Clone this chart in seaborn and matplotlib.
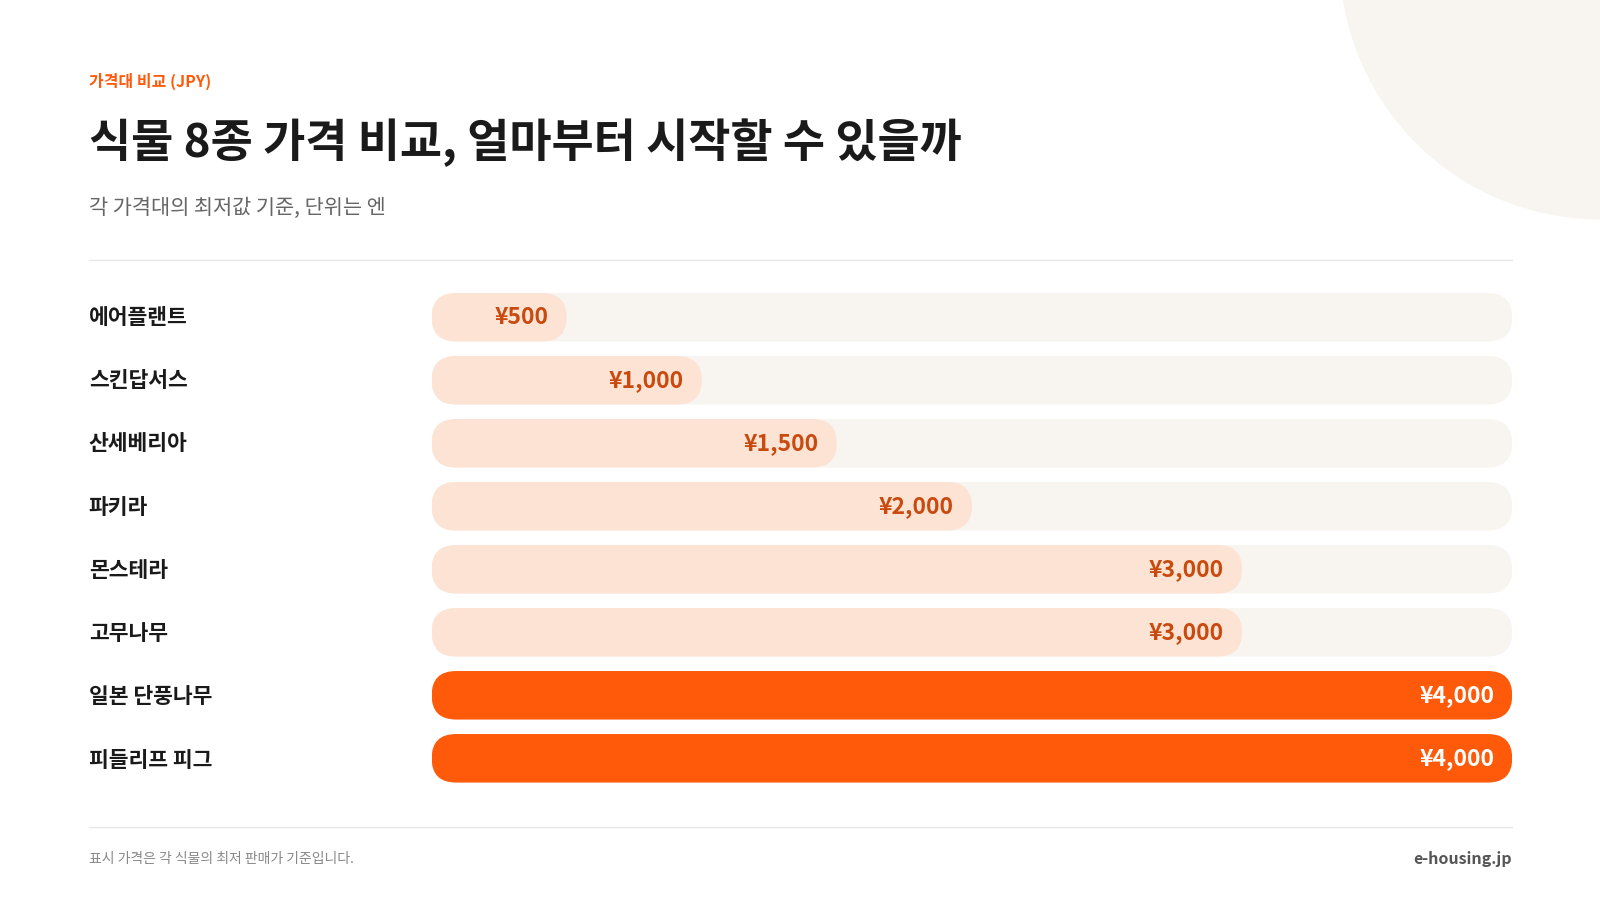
import matplotlib
matplotlib.use("Agg")
import matplotlib.pyplot as plt
import seaborn as sns
import pandas as pd
from matplotlib.patches import FancyBboxPatch, Ellipse

plants = ["에어플랜트", "스킨답서스", "산세베리아", "파키라", "몬스테라", "고무나무", "일본 단풍나무", "피들리프 피그"]
prices = [500, 1000, 1500, 2000, 3000, 3000, 4000, 4000]
labels = ["¥500", "¥1,000", "¥1,500", "¥2,000", "¥3,000", "¥3,000", "¥4,000", "¥4,000"]
xmax = 4000

sns.set_theme(style="white")
plt.rcParams['font.family'] = ['Noto Sans CJK KR', 'DejaVu Sans']

W, H = 1568, 882
fig = plt.figure(figsize=(16, 9), dpi=100)
fig.patch.set_facecolor("white")

def fx(x): return x / W
def fy(y): return 1 - y / H

fig.patches.append(Ellipse((fx(1568), fy(-40)), 2 * 255 / W, 2 * 255 / H, transform=fig.transFigure,
                           facecolor="#f8f5f1", edgecolor="none", zorder=0))

fig.text(fx(87), fy(80), "가격대 비교 (JPY)", fontsize=11.5, color="#ff5a0a", fontweight="bold", va="center")
fig.text(fx(87), fy(140), "식물 8종 가격 비교, 얼마부터 시작할 수 있을까", fontsize=33, color="#1a1a1a",
         fontweight="bold", va="center")
fig.text(fx(87), fy(204), "각 가격대의 최저값 기준, 단위는 엔", fontsize=15, color="#666666", va="center")
fig.add_artist(plt.Line2D([fx(87), fx(1482)], [fy(255), fy(255)], transform=fig.transFigure, color="#e8e8e8", lw=1))
fig.add_artist(plt.Line2D([fx(87), fx(1482)], [fy(810), fy(810)], transform=fig.transFigure, color="#e8e8e8", lw=1))
fig.text(fx(87), fy(842), "표시 가격은 각 식물의 최저 판매가 기준입니다.", fontsize=10, color="#888888", va="center")
fig.text(fx(1482), fy(842), "e-housing.jp", fontsize=11.5, color="#555555", fontweight="bold", va="center", ha="right")

ax = fig.add_axes([fx(423), fy(774), (1482 - 423) / W, (774 - 280) / H])
df = pd.DataFrame({"plant": plants, "price": prices})
colors = ["#ff5a0a" if p == max(prices) else "#fde3d4" for p in prices]
sns.barplot(data=df, y="plant", x="price", hue="plant", palette=colors, legend=False, ax=ax,
            width=0.77, saturation=1)
ax.set_xlim(0, xmax)
ax.set_ylim(7.5, -0.5)
ax.axis("off")

px_x = xmax / (1482 - 423)
px_y = 1 / 62
r = 24 * px_x
aspect = px_y / px_x
bars = list(ax.patches)
for b in bars:
    x0, y0, w, h = b.get_x(), b.get_y(), b.get_width(), b.get_height()
    fc = b.get_facecolor()
    b.remove()
    ax.add_patch(FancyBboxPatch((0, y0), xmax, h, boxstyle=f"round,pad=0,rounding_size={r}",
                                mutation_aspect=aspect, facecolor="#f8f5f1", edgecolor="none", zorder=1))
    ax.add_patch(FancyBboxPatch((x0, y0), w, h, boxstyle=f"round,pad=0,rounding_size={r}",
                                mutation_aspect=aspect, facecolor=fc, edgecolor="none", zorder=2))

for i, (p, lab) in enumerate(zip(prices, labels)):
    tc = "white" if p == max(prices) else "#c94a0e"
    ax.annotate(lab, (p, i), xytext=(-18, 0), textcoords="offset pixels", ha="right", va="center",
                fontsize=16.5, fontweight="bold", color=tc, zorder=3)
    fig.text(fx(87), fy(311 + 62 * i), plants[i], fontsize=15.5, fontweight="bold", color="#1a1a1a", va="center")

fig.savefig("out.png", dpi=100, facecolor="white")
